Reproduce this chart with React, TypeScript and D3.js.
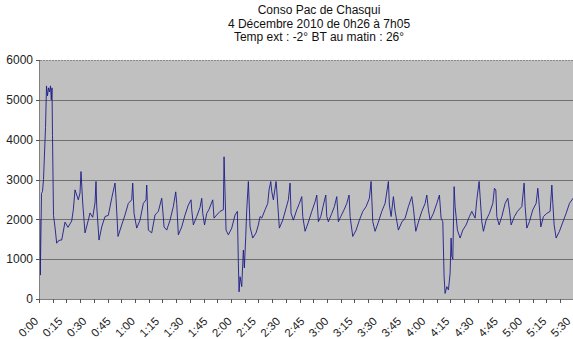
import React from "react";
import * as d3 from "d3";

const titleLines = [
  "Conso Pac de Chasqui",
  "4 Décembre 2010 de 0h26 à 7h05",
  "Temp ext : -2° BT au matin : 26°",
];

const yTicks = [0, 1000, 2000, 3000, 4000, 5000, 6000];
const xLabels = [
  "0:00", "0:15", "0:30", "0:45", "1:00", "1:15", "1:30", "1:45", "2:00", "2:15", "2:30", "2:45",
  "3:00", "3:15", "3:30", "3:45", "4:00", "4:15", "4:30", "4:45", "5:00", "5:15", "5:30",
];

// elapsed minutes
const minutes = [
  0, 0.19, 0.93, 1.55, 2.17, 3.41, 4.03, 4.65, 5.27, 5.89, 6.51, 7.0, 7.44, 7.75, 8.37, 9.3,
  10.35, 11.16, 12.4, 13.45, 15.5, 17.36, 19.65, 20.65, 21.7, 23.75, 24.8, 25.42, 26.47, 27.9,
  29.95, 31.0, 32.67, 34.1, 34.72, 35.15, 36.58, 38.25, 40.3, 42.35, 44.45, 46.5, 47.12, 48.36,
  50.65, 52.7, 54.75, 56.85, 57.47, 58.28, 59.95, 62.0, 64.05, 65.72, 66.15, 67.15, 69.25, 71.3,
  73.35, 75.45, 75.83, 76.9, 78.55, 80.6, 82.65, 84.13, 84.75, 85.75, 87.85, 89.9, 91.95, 93.62,
  94.05, 95.05, 97.15, 99.2, 100.25, 100.87, 101.99, 103.35, 104.78, 107.07, 107.88, 109.55,
  111.6, 113.65, 114.08, 115.32, 116.75, 118.85, 120.9, 122.33, 122.95, 123.38, 124.0, 125.05,
  126.05, 126.67, 127.53, 128.15, 129.15, 130.2, 131.87, 133.92, 135.35, 136.4, 137.45, 139.5,
  141.17, 141.98, 143.03, 143.65, 144.65, 146.32, 146.75, 148.37, 150.47, 152.52, 153.95, 155.0,
  155.62, 157.05, 159.15, 160.77, 162.25, 162.87, 164.3, 166.35, 168.45, 170.5, 171.55, 172.55,
  174.03, 175.65, 177.13, 177.75, 178.75, 180.85, 182.47, 183.95, 184.95, 186.43, 188.48, 190.15,
  191.58, 192.2, 193.87, 195.92, 197.97, 200.07, 202.12, 204.17, 205.22, 206.27, 207.7, 209.75,
  211.85, 213.9, 215.95, 216.57, 217.62, 219.05, 220.1, 222.15, 224.25, 226.3, 228.35, 230.45,
  231.45, 232.93, 234.55, 236.65, 238.7, 239.75, 240.75, 241.8, 243.85, 245.95, 247.57, 248.62,
  249.67, 250.48, 251.1, 252.15, 253.15, 254.2, 254.82, 255.25, 255.87, 256.68, 257.3, 258.73,
  260.4, 262.07, 264.12, 266.17, 267.65, 269.7, 270.75, 272.18, 272.8, 273.85, 274.85, 276.52,
  278.57, 280.67, 281.67, 282.53, 283.15, 284.58, 286.25, 288.3, 289.97, 290.97, 292.02, 294.07,
  295.93, 298.65, 300.08, 300.7, 301.75, 303.37, 305.47, 307.52, 308.57, 309.19, 310.43, 312.05,
  314.15, 316.2, 317.25, 317.87, 318.68, 319.92, 321.97, 324.07, 326.12, 328.17, 330.46, 331.7,
];

// power (W)
const watts = [
  2000, 600, 2650, 2700, 3000, 4300, 5350, 5100, 5300, 5200, 5350, 5000, 5300, 4100, 2100, 1800,
  1400, 1450, 1480, 1480, 1930, 1800, 1960, 2240, 2740, 2490, 2660, 3200, 2410, 1660,
  1980, 2160, 2050, 2410, 2950, 2330, 1480, 1810, 2070, 2100, 2530, 2910, 2530, 1570,
  1860, 2110, 2400, 2490, 2910, 2150, 1780, 1980, 2400, 2490, 2860, 1730, 1660, 2110,
  2200, 2530, 2360, 1810, 1730, 1980, 2320, 2690, 2400, 1610, 1810, 2110, 2360, 2490,
  2240, 1860, 2070, 2300, 2530, 2150, 1860, 2150, 2250, 2490, 2030, 2110,
  2200, 2240, 3570, 1730, 1610, 1780, 2110, 2200, 900, 180, 560, 310,
  1230, 780, 1570, 2240, 2950, 1810, 1530, 1660, 1860, 2070, 2030, 2240,
  2400, 2740, 2950, 2700, 2490, 2950, 2740, 1780, 1980, 2280, 2490, 2910,
  2150, 1980, 2240, 2400, 2570, 2070, 1700, 1930, 2200, 2440, 2610, 1940,
  2070, 2360, 2610, 2070, 1940, 2150, 2320, 2570, 1940, 2070, 2240, 2400,
  2610, 2070, 1570, 1730, 1980, 2200, 2320, 2530, 2950, 1940, 1700, 1930,
  2200, 2400, 2950, 2360, 2070, 2570, 2200, 1730, 1930, 2030, 2320, 2570,
  2280, 1700, 1930, 2200, 2400, 2610, 2240, 1980, 2150, 2400, 2610, 2030,
  1940, 560, 140, 310, 230, 643, 1530, 1070, 1000, 2820, 2320, 1730,
  1530, 1730, 1860, 2070, 2200, 2030, 2490, 2950, 2570, 1940, 1700, 1980,
  2150, 2400, 2780, 2740, 2070, 1860, 2070, 2400, 2530, 2240, 1860, 2070,
  2200, 2320, 2910, 2320, 1780, 1940, 2240, 2400, 2780, 2490, 1810, 2070,
  2150, 2200, 2860, 2400, 1860, 1530, 1700, 1930, 2150, 2400, 2530, 2600,
];

const W = 573;
const H = 339;
const left = 40;
const top = 60;
const bottom = 299;
const pxPer15 = 24.2;
const tickStepMin = 8.5;

export default function App() {
  const x = d3.scaleLinear().domain([0, 15]).range([left, left + pxPer15]);
  const y = d3.scaleLinear().domain([0, 6000]).range([bottom, top]);
  const data = minutes.map((m, i) => [m, watts[i]] as [number, number]);
  const line = d3
    .line<[number, number]>()
    .x((d) => x(d[0]))
    .y((d) => y(d[1]));
  const maxMin = x.invert(W + 5);
  const minorTicks = d3.range(0, maxMin, tickStepMin);
  const font = "'Liberation Sans', Arial, sans-serif";

  return (
    <svg
      width={W}
      height={H}
      style={{ position: "absolute", left: 0, top: 0, background: "#fff" }}
      fontFamily={font}
    >
      <defs>
        <clipPath id="plot">
          <rect x={left} y={top - 2} width={W - left} height={bottom - top + 4} />
        </clipPath>
      </defs>
      <rect x={left} y={top} width={W - left} height={bottom - top} fill="#c0c0c0" />
      {yTicks.slice(1, -1).map((t) => (
        <line key={t} x1={left} x2={W} y1={Math.round(y(t)) + 0.5} y2={Math.round(y(t)) + 0.5} stroke="#707070" strokeWidth={1} />
      ))}
      <line x1={left} x2={W} y1={top + 0.5} y2={top + 0.5} stroke="#8a8a8a" strokeWidth={1} strokeDasharray="2,1" />
      <line x1={left - 0.5} x2={left - 0.5} y1={top} y2={bottom} stroke="#808080" strokeWidth={1} />
      <line x1={left} x2={W} y1={bottom + 0.5} y2={bottom + 0.5} stroke="#808080" strokeWidth={1} />
      {yTicks.map((t) => (
        <g key={t}>
          <line x1={left - 4} x2={left} y1={Math.round(y(t)) + 0.5} y2={Math.round(y(t)) + 0.5} stroke="#555" />
          <text x={left - 7} y={y(t)} dy="0.35em" textAnchor="end" fontSize={12} fill="#222">
            {t}
          </text>
        </g>
      ))}
      {minorTicks.map((m, i) => (
        <line key={i} x1={Math.round(x(m)) - 0.5} x2={Math.round(x(m)) - 0.5} y1={bottom} y2={bottom + 4} stroke="#555" />
      ))}
      {xLabels.map((lab, i) => (
        <text
          key={lab}
          transform={`translate(${x(i * 15) - 1},${bottom + 23}) rotate(-45)`}
          textAnchor="end"
          fontSize={11.5}
          fill="#222"
        >
          {lab}
        </text>
      ))}
      <path d={line(data) || ""} fill="none" stroke="#1c1c8a" strokeWidth={0.9} clipPath="url(#plot)" strokeLinejoin="round" />
      {titleLines.map((t, i) => (
        <text key={i} x={319} y={14 + i * 13.5} textAnchor="middle" fontSize={12} fill="#111">
          {t}
        </text>
      ))}
    </svg>
  );
}
